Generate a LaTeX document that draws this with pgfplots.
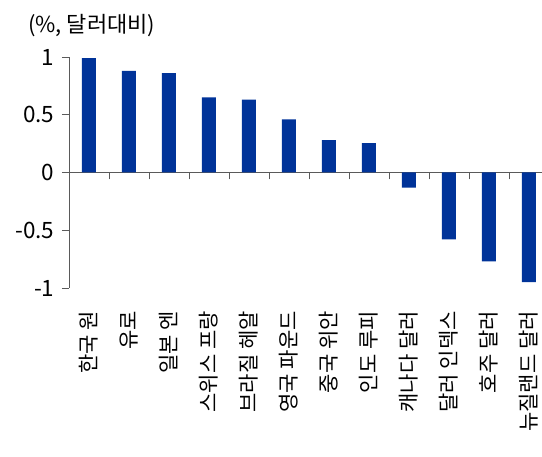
\documentclass[border=0pt]{standalone}
\usepackage{fontspec}
\setmainfont{Noto Sans CJK KR}
\usepackage{pgfplots}
\pgfplotsset{compat=1.18}
\definecolor{barblue}{HTML}{003399}
\definecolor{axgray}{HTML}{5A5A5A}
\begin{document}
\begin{tikzpicture}
\begin{axis}[
  scale only axis, width=473pt, height=231pt,
  xmin=0.5, xmax=12.325, ymin=-1, ymax=1,
  axis y line*=left, axis x line*=middle,
  hide obscured x ticks=false, hide obscured y ticks=false,
  xtick={0.5,1.5,...,11.5}, xticklabels={},
  ytick={-1,-0.5,0,0.5,1},
  tick align=outside, major tick length=7pt,
  every tick/.style={axgray, line width=0.8pt},
  axis line style={axgray, line width=0.8pt},
  tick label style={font=\fontsize{22.5}{22.5}\selectfont},
  /pgf/number format/assume math mode=true,
  yticklabel style={xshift=-4pt},
  ybar, bar width=14pt, clip=false,
]
\addplot[fill=barblue, draw=none] coordinates {
  (1,0.99) (2,0.88) (3,0.86) (4,0.65) (5,0.63) (6,0.46)
  (7,0.28) (8,0.255) (9,-0.13) (10,-0.58) (11,-0.77) (12,-0.95)
};
\coordinate (ll) at (rel axis cs:0,0);
\coordinate (ur) at (rel axis cs:1,1);
\node[rotate=90, anchor=east, inner sep=0pt, font=\fontsize{21}{21}\selectfont] at ([yshift=-23pt]axis cs:1,-1) {한국 원};
\node[rotate=90, anchor=east, inner sep=0pt, font=\fontsize{21}{21}\selectfont] at ([yshift=-23pt]axis cs:2,-1) {유로};
\node[rotate=90, anchor=east, inner sep=0pt, font=\fontsize{21}{21}\selectfont] at ([yshift=-23pt]axis cs:3,-1) {일본 엔};
\node[rotate=90, anchor=east, inner sep=0pt, font=\fontsize{21}{21}\selectfont] at ([yshift=-23pt]axis cs:4,-1) {스위스 프랑};
\node[rotate=90, anchor=east, inner sep=0pt, font=\fontsize{21}{21}\selectfont] at ([yshift=-23pt]axis cs:5,-1) {브라질 헤알};
\node[rotate=90, anchor=east, inner sep=0pt, font=\fontsize{21}{21}\selectfont] at ([yshift=-23pt]axis cs:6,-1) {영국 파운드};
\node[rotate=90, anchor=east, inner sep=0pt, font=\fontsize{21}{21}\selectfont] at ([yshift=-23pt]axis cs:7,-1) {중국 위안};
\node[rotate=90, anchor=east, inner sep=0pt, font=\fontsize{21}{21}\selectfont] at ([yshift=-23pt]axis cs:8,-1) {인도 루피};
\node[rotate=90, anchor=east, inner sep=0pt, font=\fontsize{21}{21}\selectfont] at ([yshift=-23pt]axis cs:9,-1) {캐나다 달러};
\node[rotate=90, anchor=east, inner sep=0pt, font=\fontsize{21}{21}\selectfont] at ([yshift=-23pt]axis cs:10,-1) {달러 인덱스};
\node[rotate=90, anchor=east, inner sep=0pt, font=\fontsize{21}{21}\selectfont] at ([yshift=-23pt]axis cs:11,-1) {호주 달러};
\node[rotate=90, anchor=east, inner sep=0pt, font=\fontsize{21}{21}\selectfont] at ([yshift=-23pt]axis cs:12,-1) {뉴질랜드 달러};
\node[anchor=base west, inner sep=0pt, font=\fontsize{22}{22}\selectfont] at ([xshift=-41pt,yshift=24pt]rel axis cs:0,1) {(\%, 달러대비)};
\end{axis}
\pgfresetboundingbox
\path (ll) ++(-69pt,-169pt) rectangle ([yshift=57pt]ur);
\end{tikzpicture}
\end{document}
